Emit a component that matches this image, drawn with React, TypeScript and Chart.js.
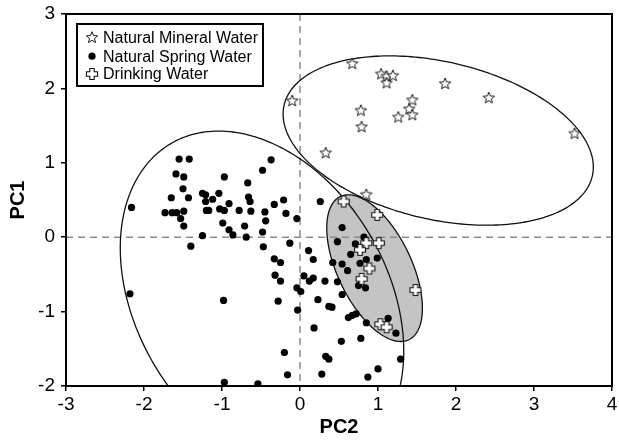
import { useEffect, useRef } from "react";
import { Chart, registerables } from "chart.js";
Chart.register(...registerables);

const FONT = "'Liberation Sans', Arial, Helvetica, sans-serif";

// axis ranges / ticks
const xRange = [-3, 4];
const yRange = [-2, 3];
const tickStep = 1;

const legendLabels = ["Natural Mineral Water", "Natural Spring Water", "Drinking Water"];
const axisTitles = { x: "PC2", y: "PC1" };

// [PC2, PC1]
const mineralWater: [number, number][] = [
  [-0.10, 1.83], [0.33, 1.13], [0.67, 2.33], [0.78, 1.70], [0.79, 1.48], [0.85, 0.57],
  [1.04, 2.19], [1.11, 2.16], [1.19, 2.17], [1.11, 2.07], [1.26, 1.61], [1.40, 1.72],
  [1.44, 1.84], [1.44, 1.64], [1.86, 2.06], [2.42, 1.87], [3.52, 1.39],
];

const springWater: [number, number][] = [
  [-1.55, 1.05], [-1.42, 1.05], [-0.37, 1.04], [-1.59, 0.85], [-1.49, 0.81], [-0.48, 0.90],
  [-0.97, 0.81], [-1.50, 0.65], [-0.67, 0.73], [-1.65, 0.53], [-1.43, 0.53], [-1.25, 0.59],
  [-1.21, 0.57], [-1.04, 0.59], [-1.12, 0.51], [-1.21, 0.48], [-0.66, 0.54], [-0.64, 0.48],
  [-0.91, 0.45], [-0.21, 0.50], [-0.33, 0.44], [-2.16, 0.40], [-1.73, 0.33], [-1.64, 0.33],
  [-1.58, 0.33], [-1.49, 0.35], [-1.20, 0.36], [-1.17, 0.36], [-1.03, 0.38], [-0.97, 0.36],
  [-0.78, 0.36], [-0.63, 0.35], [-0.45, 0.34], [-0.18, 0.32], [-0.04, 0.25], [-1.53, 0.25],
  [-1.49, 0.15], [-1.40, -0.12], [-1.25, 0.02], [-0.99, 0.19], [-0.91, 0.10], [-0.86, 0.03],
  [-0.71, 0.15], [-0.69, 0.00], [-0.48, 0.07], [-0.47, -0.13], [-0.44, 0.22], [-0.13, -0.08],
  [-0.33, -0.29], [-0.25, -0.34], [-0.32, -0.51], [-0.25, -0.59], [-0.04, -0.68], [0.01, -0.73],
  [-0.28, -0.86], [-0.03, -0.98], [0.11, -0.18], [0.17, -0.30], [0.05, -0.52], [0.12, -0.59],
  [0.17, -0.55], [0.23, -0.84], [0.18, -1.22], [-0.20, -1.55], [-0.16, -1.85], [-0.98, -0.85],
  [-2.18, -0.76], [-0.97, -1.95], [-0.54, -1.97], [0.26, 0.48], [0.54, 0.13], [0.48, -0.06],
  [0.71, -0.09], [0.82, 0.00], [0.65, -0.23], [0.77, -0.35], [0.85, -0.30], [0.99, -0.28],
  [0.42, -0.34], [0.54, -0.36], [0.61, -0.45], [0.32, -0.59], [0.48, -0.60], [0.75, -0.65],
  [0.84, -0.68], [0.54, -0.77], [0.37, -0.93], [0.41, -0.94], [0.62, -1.08], [0.67, -1.05],
  [0.72, -1.03], [0.85, -1.15], [1.13, -1.09], [1.23, -1.29], [0.53, -1.40], [0.78, -1.36],
  [0.33, -1.60], [0.37, -1.64], [1.29, -1.64], [1.00, -1.77], [0.28, -1.84], [0.87, -1.88],
];

const drinkingWater: [number, number][] = [
  [0.56, 0.48], [0.99, 0.30], [0.85, -0.08], [1.01, -0.08], [0.77, -0.17],
  [0.89, -0.42], [0.79, -0.56], [1.48, -0.71], [1.03, -1.17], [1.11, -1.21],
];

// confidence ellipses in data units: center, first and second semi-axis vectors
const mineralEllipse = { center: [1.772, 1.299], u: [1.976, -0.475], v: [-0.223, -1.034] };
const springEllipse = { center: [-0.487, -0.84], u: [1.174, -2.095], v: [-1.387, -0.865] };
const drinkingEllipse = { center: [0.956, -0.416], u: [0.44, -0.962], v: [-0.427, -0.217] };

function starPath(ctx: CanvasRenderingContext2D, cx: number, cy: number, R: number, r: number) {
  ctx.beginPath();
  for (let i = 0; i < 10; i++) {
    const rad = i % 2 === 0 ? R : r;
    const a = -Math.PI / 2 + (i * Math.PI) / 5;
    const px = cx + rad * Math.cos(a);
    const py = cy + rad * Math.sin(a);
    if (i === 0) ctx.moveTo(px, py);
    else ctx.lineTo(px, py);
  }
  ctx.closePath();
}

function drawStar(ctx: CanvasRenderingContext2D, cx: number, cy: number) {
  starPath(ctx, cx, cy, 6, 2.6);
  ctx.fillStyle = "#fff";
  ctx.fill();
  ctx.lineWidth = 1;
  ctx.strokeStyle = "#1a1a1a";
  ctx.stroke();
}

function drawPlus(ctx: CanvasRenderingContext2D, cx: number, cy: number) {
  const L = 5.5, W = 2.2;
  ctx.beginPath();
  ctx.moveTo(cx - W, cy - L);
  ctx.lineTo(cx + W, cy - L);
  ctx.lineTo(cx + W, cy - W);
  ctx.lineTo(cx + L, cy - W);
  ctx.lineTo(cx + L, cy + W);
  ctx.lineTo(cx + W, cy + W);
  ctx.lineTo(cx + W, cy + L);
  ctx.lineTo(cx - W, cy + L);
  ctx.lineTo(cx - W, cy + W);
  ctx.lineTo(cx - L, cy + W);
  ctx.lineTo(cx - L, cy - W);
  ctx.lineTo(cx - W, cy - W);
  ctx.closePath();
  ctx.fillStyle = "#fff";
  ctx.fill();
  ctx.lineWidth = 1.1;
  ctx.strokeStyle = "#111";
  ctx.stroke();
}

function drawDot(ctx: CanvasRenderingContext2D, cx: number, cy: number) {
  ctx.beginPath();
  ctx.arc(cx, cy, 3.6, 0, Math.PI * 2);
  ctx.fillStyle = "#000";
  ctx.fill();
}

function makeMarker(draw: (c: CanvasRenderingContext2D, x: number, y: number) => void) {
  const c = document.createElement("canvas");
  c.width = 16;
  c.height = 16;
  const g = c.getContext("2d")!;
  draw(g, 8, 8);
  return c;
}

function ellipsePath(chart: any, e: { center: number[]; u: number[]; v: number[] }) {
  const { ctx, scales } = chart;
  const xs = scales.x, ys = scales.y;
  ctx.beginPath();
  const N = 240;
  for (let i = 0; i <= N; i++) {
    const t = (2 * Math.PI * i) / N;
    const dx = e.center[0] + e.u[0] * Math.cos(t) + e.v[0] * Math.sin(t);
    const dy = e.center[1] + e.u[1] * Math.cos(t) + e.v[1] * Math.sin(t);
    const px = xs.getPixelForValue(dx);
    const py = ys.getPixelForValue(dy);
    if (i === 0) ctx.moveTo(px, py);
    else ctx.lineTo(px, py);
  }
  ctx.closePath();
}

const decorPlugin = {
  id: "decor",
  beforeDatasetsDraw(chart: any) {
    const { ctx, chartArea: a, scales } = chart;
    ctx.save();
    ctx.beginPath();
    ctx.rect(a.left, a.top, a.right - a.left, a.bottom - a.top);
    ctx.clip();
    // gray filled ellipse
    ellipsePath(chart, drinkingEllipse);
    ctx.fillStyle = "#c4c4c4";
    ctx.fill();
    // dashed zero lines
    ctx.setLineDash([7, 5]);
    ctx.strokeStyle = "#8c8c8c";
    ctx.lineWidth = 1.5;
    const x0 = scales.x.getPixelForValue(0);
    const y0 = scales.y.getPixelForValue(0);
    ctx.beginPath();
    ctx.moveTo(x0, a.top);
    ctx.lineTo(x0, a.bottom);
    ctx.moveTo(a.left, y0);
    ctx.lineTo(a.right, y0);
    ctx.stroke();
    ctx.setLineDash([]);
    // ellipse outlines
    ctx.strokeStyle = "#111";
    ctx.lineWidth = 1.3;
    for (const e of [springEllipse, mineralEllipse, drinkingEllipse]) {
      ellipsePath(chart, e);
      ctx.stroke();
    }
    ctx.restore();
    // plot frame
    ctx.save();
    ctx.strokeStyle = "#000";
    ctx.lineWidth = 2;
    ctx.strokeRect(a.left, a.top, a.right - a.left, a.bottom - a.top);
    ctx.restore();
  },
  afterDatasetsDraw(chart: any) {
    const { ctx, chartArea: a } = chart;
    const bx = a.left + 11, by = a.top + 10, bw = 186, bh = 62;
    ctx.save();
    ctx.fillStyle = "#fff";
    ctx.fillRect(bx, by, bw, bh);
    ctx.strokeStyle = "#000";
    ctx.lineWidth = 2;
    ctx.strokeRect(bx, by, bw, bh);
    const rows = [13.7, 32.2, 50];
    const drawers = [drawStar, drawDot, drawPlus];
    ctx.font = `16px ${FONT}`;
    ctx.textBaseline = "middle";
    ctx.textAlign = "left";
    legendLabels.forEach((lab, i) => {
      drawers[i](ctx, bx + 15, by + rows[i]);
      ctx.fillStyle = "#000";
      ctx.fillText(lab, bx + 26, by + rows[i] + 1);
    });
    ctx.restore();
  },
};

export default function App() {
  const ref = useRef<HTMLCanvasElement | null>(null);
  useEffect(() => {
    if (!ref.current) return;
    const starImg = makeMarker(drawStar);
    const plusImg = makeMarker(drawPlus);
    const toPts = (arr: [number, number][]) => arr.map(([x, y]) => ({ x, y }));
    const chart = new Chart(ref.current, {
      type: "scatter",
      data: {
        datasets: [
          {
            label: legendLabels[0],
            data: toPts(mineralWater),
            pointStyle: starImg as any,
            pointRadius: 6,
            order: 1,
          },
          {
            label: legendLabels[1],
            data: toPts(springWater),
            pointStyle: "circle",
            pointRadius: 3.6,
            backgroundColor: "#000",
            borderWidth: 0,
            order: 2,
          },
          {
            label: legendLabels[2],
            data: toPts(drinkingWater),
            pointStyle: plusImg as any,
            pointRadius: 6,
            order: 0,
          },
        ],
      },
      options: {
        animation: false,
        responsive: false,
        devicePixelRatio: 1,
        layout: { padding: { left: 0, top: 14, right: 4, bottom: 0 } },
        plugins: {
          legend: { display: false },
          tooltip: { enabled: false },
        },
        scales: {
          x: {
            type: "linear",
            min: xRange[0],
            max: xRange[1],
            ticks: { stepSize: tickStep, color: "#000", font: { size: 19, family: FONT }, padding: 2 },
            grid: { drawOnChartArea: false, drawTicks: true, tickLength: 5, color: "#000", lineWidth: 1.5 },
            border: { display: true, color: "#000", width: 2 },
            title: {
              display: true,
              text: axisTitles.x,
              color: "#000",
              font: { size: 20, weight: "bold", family: FONT },
              padding: { top: 0, bottom: 1 },
            },
            afterFit: (s: any) => {
              s.height = 54;
              s.paddingLeft = 0;
              s.paddingRight = 0;
            },
          },
          y: {
            type: "linear",
            min: yRange[0],
            max: yRange[1],
            ticks: { stepSize: tickStep, color: "#000", font: { size: 19, family: FONT }, padding: 6 },
            grid: { drawOnChartArea: false, drawTicks: true, tickLength: 5, color: "#000", lineWidth: 1.5 },
            border: { display: true, color: "#000", width: 2 },
            title: {
              display: true,
              text: axisTitles.y,
              color: "#000",
              font: { size: 20, weight: "bold", family: FONT },
              padding: { top: 6, bottom: 0 },
            },
            afterFit: (s: any) => {
              s.width = 66;
              s.paddingTop = 0;
              s.paddingBottom = 0;
            },
          },
        },
      } as any,
      plugins: [decorPlugin],
    });
    return () => chart.destroy();
  }, []);
  return (
    <div style={{ position: "fixed", left: 0, top: 0, width: 619, height: 440, background: "#fff" }}>
      <canvas ref={ref} width={619} height={440} style={{ width: 619, height: 440, display: "block" }} />
    </div>
  );
}
